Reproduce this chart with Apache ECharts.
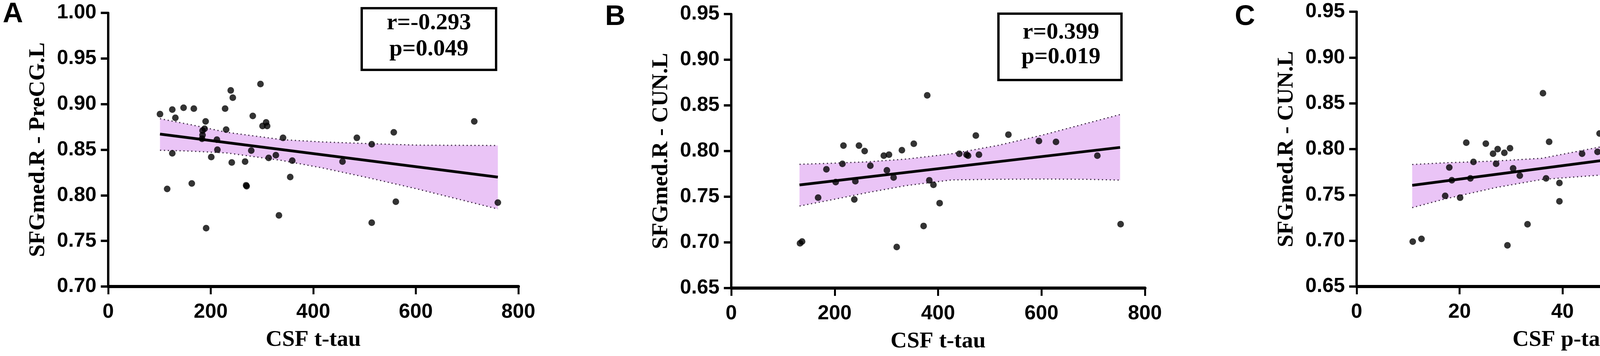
<!DOCTYPE html>
<html>
<head>
<meta charset="utf-8">
<title>SFGmed correlations</title>
<script src="https://cdn.jsdelivr.net/npm/echarts@6/dist/echarts.min.js"></script>
<style>
    html, body { margin: 0; padding: 0; background: #fff; }
    #main { width: 4559px; height: 912px; }
</style>
</head>
<body>
<div id="main"></div>
<script>
// ---- panel A : CSF t-tau vs SFGmed.R - PreCG.L
var aX = [101, 125, 131, 147, 167, 125, 115, 163, 190, 188, 184, 184, 183, 191, 201, 212, 213, 228, 230, 239, 243, 241, 267, 269, 270, 279, 282, 297, 301, 308, 310, 313, 327, 333, 341, 355, 359, 457, 485, 514, 514, 557, 561, 714, 760];
var aY = [0.889, 0.894, 0.885, 0.896, 0.895, 0.846, 0.807, 0.813, 0.881, 0.873, 0.871, 0.866, 0.862, 0.764, 0.842, 0.861, 0.850, 0.895, 0.872, 0.915, 0.907, 0.836, 0.837, 0.811, 0.810, 0.849, 0.887, 0.922, 0.876, 0.880, 0.876, 0.841, 0.844, 0.778, 0.863, 0.820, 0.838, 0.837, 0.863, 0.856, 0.770, 0.869, 0.793, 0.881, 0.792];
var aFitX = [101, 760];
var aFitY = [0.8671, 0.8199];
var aBandX = [101, 160, 232, 339, 418, 511, 604, 760];
var aBandUp = [0.884, 0.8775, 0.869, 0.861, 0.8585, 0.8566, 0.855, 0.8546];
var aBandLo = [0.8494, 0.8485, 0.8464, 0.8382, 0.8300, 0.8188, 0.8068, 0.7850];

// ---- panel B : CSF t-tau vs SFGmed.R - CUN.L
var bX = [133, 137, 168, 184, 202, 215, 217, 238, 240, 247, 258, 269, 295, 305, 301, 314, 320, 330, 353, 372, 379, 383, 391, 403, 441, 455, 458, 473, 479, 536, 595, 628, 708, 753];
var bY = [0.699, 0.701, 0.749, 0.780, 0.766, 0.786, 0.806, 0.747, 0.767, 0.806, 0.800, 0.784, 0.795, 0.796, 0.779, 0.771, 0.695, 0.801, 0.808, 0.718, 0.861, 0.768, 0.763, 0.743, 0.797, 0.796, 0.795, 0.817, 0.796, 0.818, 0.811, 0.810, 0.795, 0.720];
var bFitX = [132, 752];
var bFitY = [0.7629, 0.8040];
var bBandX = [132, 200, 263, 338, 426, 514, 602, 685, 752];
var bBandUp = [0.7855, 0.7868, 0.7882, 0.7912, 0.7970, 0.8060, 0.8175, 0.8300, 0.8400];
var bBandLo = [0.7398, 0.7473, 0.7545, 0.7622, 0.7684, 0.7691, 0.7694, 0.7691, 0.7682];

// ---- panel C : CSF p-tau vs SFGmed.R - CUN.L
var cX = [10.9, 12.6, 17.2, 18.0, 18.5, 20.1, 21.3, 22.1, 22.7, 25.1, 26.5, 27.1, 27.4, 28.7, 29.3, 29.8, 30.4, 31.7, 33.2, 36.2, 36.8, 37.4, 39.4, 39.4, 43.8, 46.8, 47.2, 48.9, 50.0, 54.8, 60.0, 67.3, 70.5, 74.5];
var cY = [0.699, 0.702, 0.749, 0.780, 0.766, 0.747, 0.807, 0.768, 0.786, 0.806, 0.795, 0.784, 0.800, 0.796, 0.695, 0.801, 0.779, 0.771, 0.718, 0.861, 0.768, 0.808, 0.763, 0.743, 0.795, 0.797, 0.817, 0.797, 0.796, 0.818, 0.811, 0.811, 0.796, 0.720];
var cFitX = [10.8, 74.3];
var cFitY = [0.7605, 0.8071];
var cBandX = [10.8, 17, 27, 36, 47, 53.5, 63.5, 74.3];
var cBandUp = [0.7832, 0.7850, 0.7870, 0.7900, 0.8020, 0.8100, 0.8258, 0.8395];
var cBandLo = [0.7361, 0.7454, 0.7580, 0.7669, 0.7715, 0.7735, 0.7728, 0.7731];

// text
var panelLetters = ['A', 'B', 'C'];
var yTitles = ['SFGmed.R - PreCG.L', 'SFGmed.R - CUN.L', 'SFGmed.R - CUN.L'];
var xTitles = ['CSF t-tau', 'CSF t-tau', 'CSF p-tau'];
var statR = ['r=-0.293', 'r=0.399', 'r=0.420'];
var statP = ['p=0.049', 'p=0.019', 'p=0.013'];

var BAND_FILL = '#eac4f6';
var BAND_EDGE = '#3d2a45';
var SERIF = '"Liberation Serif", "Times New Roman", serif';
var SANS = '"Liberation Sans", Arial, sans-serif';

function pairs(xs, ys) {
    var out = [];
    for (var i = 0; i < xs.length; i++) out.push([xs[i], ys[i]]);
    return out;
}

// polygon between the upper and lower limits of the confidence band
function bandRenderer(xs, up, lo) {
    return function (params, api) {
        var pts = [];
        for (var i = 0; i < xs.length; i++) pts.push(api.coord([xs[i], up[i]]));
        for (var j = xs.length - 1; j >= 0; j--) pts.push(api.coord([xs[j], lo[j]]));
        return {
            type: 'polygon',
            shape: { points: pts },
            style: { fill: BAND_FILL }
        };
    };
}

function xAxisFor(idx, max, interval) {
    return {
        gridIndex: idx,
        type: 'value',
        min: 0,
        max: max,
        interval: interval,
        name: xTitles[idx],
        nameLocation: 'middle',
        nameGap: 108,
        nameTextStyle: { fontFamily: SERIF, fontWeight: 'bold', fontSize: 58, color: '#000' },
        axisLine: { onZero: false, lineStyle: { color: '#000', width: 8 } },
        axisTick: { show: true, inside: false, length: 20, lineStyle: { color: '#000', width: 5 } },
        axisLabel: { margin: 40, fontFamily: SANS, fontWeight: 'bold', fontSize: 52, color: '#000' },
        splitLine: { show: false }
    };
}

function yAxisFor(idx, min, max) {
    return {
        gridIndex: idx,
        type: 'value',
        min: min,
        max: max,
        interval: 0.05,
        name: yTitles[idx],
        nameLocation: 'middle',
        nameRotate: 90,
        nameGap: 150,
        nameTextStyle: { fontFamily: SERIF, fontWeight: 'bold', fontSize: 58, color: '#000' },
        axisLine: { show: true, onZero: false, lineStyle: { color: '#000', width: 6 } },
        axisTick: { show: true, inside: false, length: 19, lineStyle: { color: '#000', width: 6 } },
        axisLabel: {
            margin: 30, fontFamily: SANS, fontWeight: 'bold', fontSize: 52, color: '#000',
            formatter: function (v) { return v.toFixed(2); }
        },
        splitLine: { show: false }
    };
}

function panelSeries(idx, xs, ys, fitX, fitY, bandX, up, lo) {
    var edge = { color: BAND_EDGE, width: 3, type: [3, 7] };
    return [
        {
            type: 'custom', xAxisIndex: idx, yAxisIndex: idx, z: 1, silent: true,
            renderItem: bandRenderer(bandX, up, lo),
            data: [[bandX[0], lo[0]]]
        },
        {
            type: 'line', xAxisIndex: idx, yAxisIndex: idx, z: 2, symbol: 'none', silent: true,
            lineStyle: edge, data: pairs(bandX, up)
        },
        {
            type: 'line', xAxisIndex: idx, yAxisIndex: idx, z: 2, symbol: 'none', silent: true,
            lineStyle: edge, data: pairs(bandX, lo)
        },
        {
            type: 'line', xAxisIndex: idx, yAxisIndex: idx, z: 3, symbol: 'none', silent: true,
            lineStyle: { color: '#000', width: 7 }, data: pairs(fitX, fitY)
        },
        {
            type: 'scatter', xAxisIndex: idx, yAxisIndex: idx, z: 4, symbol: 'circle', symbolSize: 17,
            itemStyle: { color: '#000' }, data: pairs(xs, ys)
        }
    ];
}

function textEl(str, x, y, font, align) {
    return {
        type: 'text', z: 10,
        style: {
            text: str, x: x, y: y, font: font, fill: '#000',
            align: align, verticalAlign: 'middle',
            textAlign: align, textVerticalAlign: 'middle'
        }
    };
}

function boxEl(x, y, w, h) {
    return {
        type: 'rect', z: 9,
        shape: { x: x, y: y, width: w, height: h },
        style: { fill: '#fff', stroke: '#000', lineWidth: 6 }
    };
}

window.onload = function () {
    var chart = echarts.init(document.getElementById('main'));

    var series = []
        .concat(panelSeries(0, aX, aY, aFitX, aFitY, aBandX, aBandUp, aBandLo))
        .concat(panelSeries(1, bX, bY, bFitX, bFitY, bBandX, bBandUp, bBandLo))
        .concat(panelSeries(2, cX, cY, cFitX, cFitY, cBandX, cBandUp, cBandLo));

    var statFont = 'bold 60px ' + SERIF;
    var letterFont = 'bold 72px ' + SANS;

    var option = {
        backgroundColor: '#fff',
        animation: false,
        grid: [
            { left: 277, top: 33, width: 1050, height: 701 },
            { left: 1872, top: 36, width: 1059, height: 702 },
            { left: 3473, top: 30, width: 1059, height: 704 }
        ],
        xAxis: [xAxisFor(0, 800, 200), xAxisFor(1, 800, 200), xAxisFor(2, 80, 20)],
        yAxis: [yAxisFor(0, 0.70, 1.00), yAxisFor(1, 0.65, 0.95), yAxisFor(2, 0.65, 0.95)],
        series: series,
        graphic: [
            textEl(panelLetters[0], 7, 37, letterFont, 'left'),
            textEl(panelLetters[1], 1549, 44, letterFont, 'left'),
            textEl(panelLetters[2], 3161, 44, letterFont, 'left'),

            boxEl(926, 21, 344, 158),
            textEl(statR[0], 1098, 59, statFont, 'center'),
            textEl(statP[0], 1098, 126, statFont, 'center'),

            boxEl(2556, 35, 315, 170),
            textEl(statR[1], 2716, 83, statFont, 'center'),
            textEl(statP[1], 2716, 146, statFont, 'center'),

            boxEl(4171, 39, 340, 161),
            textEl(statR[2], 4348, 83, statFont, 'center'),
            textEl(statP[2], 4348, 146, statFont, 'center')
        ]
    };

    chart.setOption(option);
};
</script>
</body>
</html>
